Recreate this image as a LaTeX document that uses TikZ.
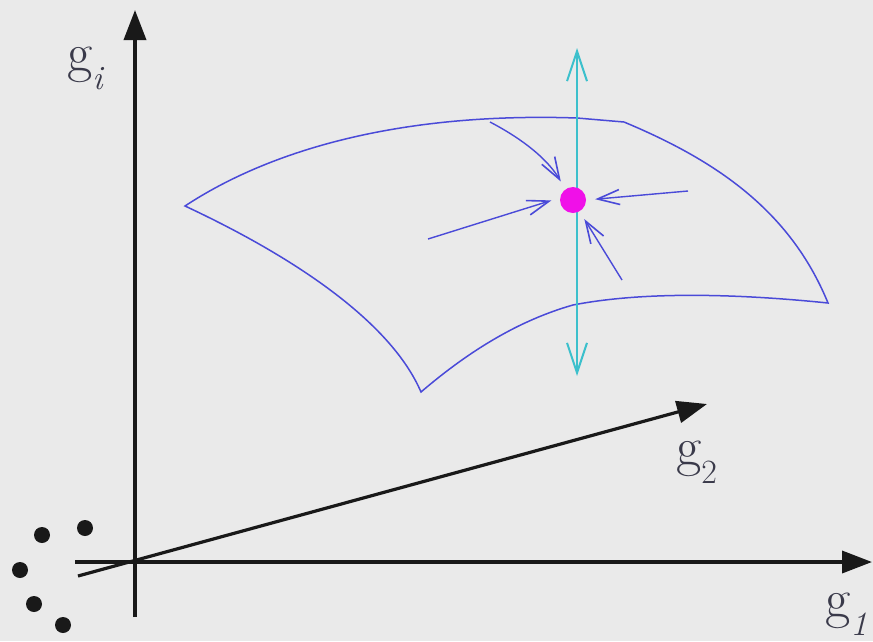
\documentclass[tikz,border=0pt]{standalone}
\usetikzlibrary{arrows.meta}
\definecolor{bg}{HTML}{EAEAEA}
\definecolor{surf}{HTML}{4A4AD8}
\definecolor{cyanax}{HTML}{3CC0CC}
\definecolor{mag}{HTML}{F010E8}
\definecolor{labc}{HTML}{3A3A4A}
\tikzset{
  axis/.style={line width=3.6pt, black!90, -{Triangle[length=30pt,width=22pt]}},
  surfline/.style={surf, line width=1.5pt},
  inarrow/.style={surf, line width=1.4pt, shorten >=9pt, -{Straight Barb[length=22pt,width=15pt,line width=1.6pt]}},
  lab/.style={text=labc, font=\rmfamily\fontsize{55}{55}\selectfont, inner sep=0pt},
  dotb/.style={fill=black!90, draw=none, circle, minimum size=16pt, inner sep=0pt},
}
\newcommand{\sbs}[1]{\raisebox{-0.33em}{\fontsize{34}{34}\selectfont #1}}
\begin{document}
\begin{tikzpicture}[x=1pt,y=-1pt]
\fill[bg] (0,0) rectangle (873,641);
\useasboundingbox (0,0) rectangle (873,641);
% axes
\coordinate (vb) at (135,617);
\coordinate (vt) at (135,10);
\coordinate (hb) at (75,562);
\coordinate (ht) at (872,562);
\coordinate (db) at (78,576);
\coordinate (dt) at (707,404);
\draw[axis] (vb) -- (vt);
\draw[axis] (hb) -- (ht);
\draw[axis, line width=3.2pt] (db) -- (dt);
% labels
\node[lab, anchor=base west] (gi) at (67,71) {g\sbs{\itshape i}};
\node[lab, anchor=base west] (g2) at (676,465) {g\sbs{2}};
\node[lab, anchor=base west] (g1) at (825,617) {g\sbs{\itshape 1}};
% dots
\node[dotb] (d1) at (42,535) {};
\node[dotb] (d2) at (85,528) {};
\node[dotb] (d3) at (20,570) {};
\node[dotb] (d4) at (34,604) {};
\node[dotb] (d5) at (63,625) {};
% surface
\coordinate (sl) at (185,206);
\coordinate (stm) at (577,118);
\coordinate (str) at (624,122);
\coordinate (sr) at (828,303);
\coordinate (sbm) at (573,305);
\coordinate (sbl) at (421,392);
\draw[surfline, line join=miter] (sl) .. controls (270,150) and (400,112) .. (stm)
  -- (str) .. controls (715,160) and (790,210) .. (sr)
  .. controls (750,295) and (650,290) .. (sbm)
  .. controls (520,320) and (470,350) .. (sbl)
  .. controls (390,320) and (290,255) .. cycle;
% vertical cyan double arrow
\coordinate (ct) at (577,48);
\coordinate (cb) at (577,376);
\draw[cyanax, line width=2pt, {Straight Barb[length=30pt,width=20pt,line width=2pt]}-{Straight Barb[length=30pt,width=20pt,line width=2pt]}] (cb) -- (ct);
% fixed point
\node[circle, fill=mag, minimum size=26pt, inner sep=0pt] (fp) at (573,200) {};
% incoming arrows
\coordinate (a1) at (490,122);
\coordinate (a2) at (428,239);
\coordinate (a3) at (688,191);
\coordinate (a4) at (622,280);
\draw[inarrow] (a1) .. controls (515,135) and (545,155) .. (fp.125);
\draw[inarrow] (a2) -- (fp.170);
\draw[inarrow] (a3) -- (fp.0);
\draw[inarrow] (a4) -- (fp.-60);
\end{tikzpicture}
\end{document}
